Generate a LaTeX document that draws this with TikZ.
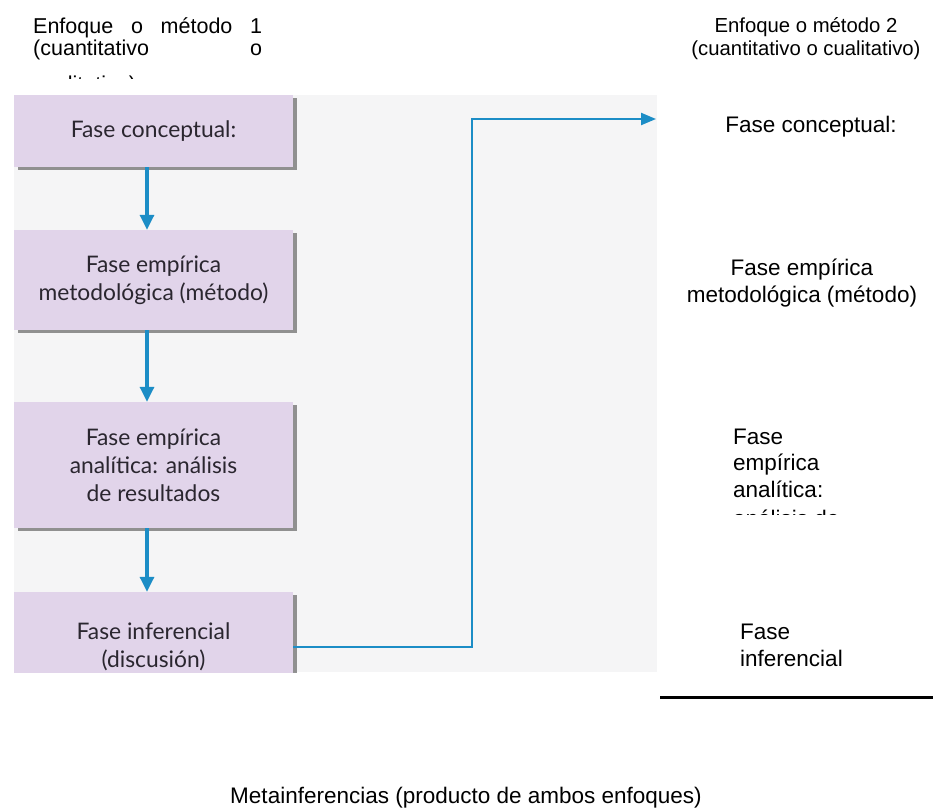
\documentclass[tikz,border=0pt]{standalone}
\usepackage{fontspec}
\setmainfont{Liberation Sans}
\newfontfamily\boxfont{Lato}
\usetikzlibrary{arrows.meta,shadows}
\definecolor{lav}{HTML}{E1D4EA}
\definecolor{boxtxt}{HTML}{2A262F}
\definecolor{flowblue}{HTML}{1C8DC6}
\definecolor{photobg}{HTML}{F5F5F6}
\tikzset{
  phase/.style={fill=lav, minimum width=279pt, inner sep=4pt, align=center,
    font=\boxfont\fontsize{22.8}{28}\selectfont, text=boxtxt,
    drop shadow={shadow xshift=4pt, shadow yshift=-3pt, fill=black!60, opacity=0.7}},
  flow/.style={draw=flowblue, line width=3.2pt, -{Triangle[width=14pt,length=15pt]}},
  link/.style={draw=flowblue, line width=2.2pt, -{Triangle[width=12pt,length=15pt]}},
  hdrL/.style={font=\fontsize{21.5}{23}\selectfont, inner sep=0},
  hdr/.style={font=\fontsize{20.3}{22.5}\selectfont, inner sep=0},
  rtxt/.style={font=\fontsize{22.5}{26.5}\selectfont, inner sep=0},
}
\begin{document}
\begin{tikzpicture}[x=1pt,y=-1pt]
\useasboundingbox (0,0) rectangle (933,811);
\fill[white] (0,0) rectangle (933,811);

% left header
\node[hdrL, anchor=base west] (h1a) at (33,33) {\makebox[229pt][s]{Enfoque o método 1}};
\node[hdrL, anchor=base west] (h1b) at (33,55) {\makebox[229pt][s]{(cuantitativo o}};
\begin{scope}
  \clip (0,74) rectangle (300,78.5);
  \node[hdrL, anchor=base west] (h1c) at (33,91) {cualitativo)};
\end{scope}

% right header
\node[hdr, align=center, anchor=base] (h2) at (806,55) {Enfoque o método 2\\(cuantitativo o cualitativo)};

% photo region with the boxes
\begin{scope}
  \clip (14,95) rectangle (657,672);
  \fill[photobg] (14,95) rectangle (657,672);
  \node[phase, minimum height=72pt]  (box1) at (153.5,131) {Fase conceptual:};
  \node[phase, minimum height=100pt] (box2) at (153.5,280) {Fase empírica\\metodológica (método)};
  \node[phase, minimum height=126pt] (box3) at (153.5,465) {Fase empírica\\analítica: análisis\\de resultados};
  \node[phase, minimum height=110pt] (box4) at (153.5,647) {Fase inferencial\\(discusión)};
\end{scope}

\draw[flow] ([xshift=-6.5pt]box1.south) -- ([xshift=-6.5pt]box2.north);
\draw[flow] ([xshift=-6.5pt]box2.south) -- ([xshift=-6.5pt]box3.north);
\draw[flow] ([xshift=-6.5pt]box3.south) -- ([xshift=-6.5pt]box4.north);

\coordinate (tipR) at (656,119);
\draw[link] (box4.east) -- ++(179,0) |- (tipR);

% right column
\node[rtxt, anchor=base] (r1) at (811,132) {Fase conceptual:};
\node[rtxt, align=center, anchor=base] (r2) at (802,302) {Fase empírica\\metodológica (método)};
\node[rtxt, align=left, anchor=base west] (r3) at (733,497) {Fase\\empírica\\analítica:};
\begin{scope}
  \clip (700,508) rectangle (933,514);
  \node[rtxt, anchor=base west] (r3b) at (733,526) {análisis de};
\end{scope}
\node[rtxt, align=left, anchor=base west] (r4) at (740,666) {Fase\\inferencial};

\coordinate (lineA) at (660,697);
\coordinate (lineB) at (933,697);
\draw[line width=3pt] (lineA) -- (lineB);

\node[rtxt, anchor=base] (meta) at (466,803) {Metainferencias (producto de ambos enfoques)};
\end{tikzpicture}
\end{document}
